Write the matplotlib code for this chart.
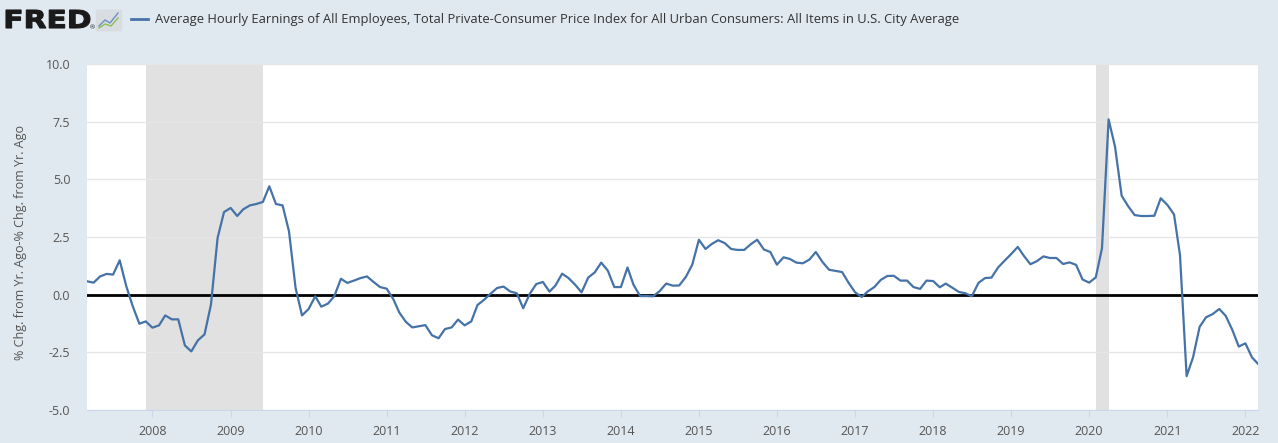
import matplotlib
matplotlib.use("Agg")
import matplotlib.pyplot as plt
import matplotlib.dates as mdates
from matplotlib.patches import FancyBboxPatch, PathPatch
from matplotlib.lines import Line2D
from matplotlib.textpath import TextPath
from matplotlib.font_manager import FontProperties
from matplotlib.transforms import Affine2D, IdentityTransform
import pandas as pd

plt.rcParams['font.family'] = ['Open Sans', 'DejaVu Sans']

# monthly observations, Mar 2007 .. Mar 2022
start_month = '2007-03-01'
values = [
    0.58, 0.52, 0.79, 0.90, 0.87, 1.49, 0.36, -0.50, -1.26, -1.16,
    -1.43, -1.33, -0.90, -1.07, -1.07, -2.20, -2.46, -1.98, -1.72, -0.43,
    2.46, 3.58, 3.76, 3.41, 3.70, 3.87, 3.93, 4.02, 4.70, 3.93,
    3.87, 2.75, 0.29, -0.90, -0.62, -0.07, -0.52, -0.39, -0.07, 0.69,
    0.51, 0.61, 0.72, 0.79, 0.55, 0.33, 0.26, -0.19, -0.77, -1.18,
    -1.42, -1.37, -1.32, -1.76, -1.89, -1.49, -1.42, -1.08, -1.33, -1.16,
    -0.45, -0.22, 0.04, 0.29, 0.35, 0.14, 0.06, -0.59, 0.04, 0.46,
    0.55, 0.13, 0.40, 0.91, 0.72, 0.43, 0.10, 0.74, 0.97, 1.39,
    1.04, 0.33, 0.33, 1.18, 0.43, -0.06, -0.06, -0.07, 0.15,
    0.48, 0.39, 0.40, 0.77, 1.30, 2.38, 1.98, 2.19, 2.36, 2.24,
    1.98, 1.94, 1.94, 2.19, 2.38, 1.96, 1.85, 1.30, 1.62, 1.55,
    1.39, 1.36, 1.52, 1.85, 1.42, 1.08, 1.03, 0.98, 0.52,
    0.10, -0.10, 0.14, 0.33, 0.64, 0.81, 0.82, 0.61, 0.61, 0.33,
    0.25, 0.61, 0.59, 0.32, 0.48, 0.30, 0.12, 0.06, -0.07, 0.51,
    0.72, 0.74, 1.18, 1.47, 1.76, 2.07, 1.69, 1.32, 1.45,
    1.66, 1.59, 1.59, 1.33, 1.40, 1.29, 0.66, 0.52, 0.75, 2.01,
    7.60, 6.42, 4.29, 3.84, 3.45, 3.41, 3.41, 3.42, 4.18, 3.89,
    3.48, 1.72, -3.53, -2.72, -1.39, -0.98, -0.84, -0.62, -0.92, -1.53,
    -2.25, -2.11, -2.72, -3.00,
]
dates = pd.date_range(start_month, periods=len(values), freq='MS')

recessions = [('2007-12-01', '2009-06-01'), ('2020-02-01', '2020-04-01')]
y_ticks = [-5.0, -2.5, 0.0, 2.5, 5.0, 7.5, 10.0]
year_ticks = list(range(2008, 2023))

series_name = ('Average Hourly Earnings of All Employees, Total Private-Consumer Price '
               'Index for All Urban Consumers: All Items in U.S. City Average')
y_label = '% Chg. from Yr. Ago-% Chg. from Yr. Ago'

bg = '#e1e9f0'
line_color = '#4572a7'

fig = plt.figure(figsize=(12.78, 4.43), dpi=100, facecolor=bg)
W, H = 1278, 443
ax = fig.add_axes([87 / W, 1 - 410 / H, (1258 - 87) / W, (410 - 64) / H])
ax.set_facecolor('white')

for a, b in recessions:
    ax.axvspan(pd.Timestamp(a), pd.Timestamp(b), color='#e1e1e1', lw=0, zorder=0)

for yv in y_ticks:
    if yv != 0:
        ax.axhline(yv, color='#e6e6e6', lw=1, zorder=1)
ax.axhline(0, color='black', lw=2, zorder=2)

ax.plot(dates, values, color=line_color, lw=1.6, zorder=3)

ax.set_xlim(dates[0], dates[-1])
ax.set_ylim(-5, 10)
ax.set_yticks(y_ticks)
ax.set_yticklabels([f'{v:.1f}' for v in y_ticks])
ax.set_xticks([pd.Timestamp(f'{y}-01-01') for y in year_ticks])
ax.xaxis.set_major_formatter(mdates.DateFormatter('%Y'))

for s in ['top', 'right', 'left']:
    ax.spines[s].set_visible(False)
ax.spines['bottom'].set_color('#ccd6eb')
ax.tick_params(axis='y', length=0, pad=12, labelsize=9, labelcolor='#555555')
ax.tick_params(axis='x', length=5, color='#ccd6eb', labelsize=9,
               labelcolor='#555555', pad=6)

fig.text(21 / W, 1 - 243 / H, y_label, rotation=90, ha='center', va='center',
         fontsize=9, color='#555555')

# header: FRED logo (stretched heavy text) + legend
tp = TextPath((0, 0), 'FRED', size=20,
              prop=FontProperties(family='DejaVu Sans', weight='bold'))
ext = tp.get_extents()
sx = 84 / ext.width
sy = 18 / ext.height
logo_tf = Affine2D().translate(-ext.x0, -ext.y0).scale(sx, sy).translate(6, H - 28)
logo = PathPatch(logo_tf.transform_path(tp), transform=IdentityTransform(),
                 facecolor='#1a1a1a', edgecolor='#1a1a1a', lw=0.8)
fig.patches.append(logo)
fig.text(90 / W, 1 - 28 / H, '®', fontsize=4.5, color='#1a1a1a', va='center')
icon = FancyBboxPatch((97 / W, 1 - 31 / H), 24 / W, 21 / H,
                      boxstyle='round,pad=0.001', transform=fig.transFigure,
                      facecolor='#d9dde2', edgecolor='none')
fig.patches.append(icon)
fig.lines.append(Line2D([99 / W, 105 / W, 110 / W, 118 / W],
                        [1 - 26 / H, 1 - 20 / H, 1 - 23 / H, 1 - 13 / H],
                        transform=fig.transFigure, color='#6a8fc0', lw=1))
fig.lines.append(Line2D([99 / W, 105 / W, 111 / W, 118 / W],
                        [1 - 28 / H, 1 - 24 / H, 1 - 26 / H, 1 - 18 / H],
                        transform=fig.transFigure, color='#8cc04f', lw=1))

fig.lines.append(Line2D([131 / W, 148 / W], [1 - 19 / H, 1 - 19 / H],
                        transform=fig.transFigure, color=line_color, lw=2))
fig.text(155 / W, 1 - 19 / H, series_name, fontsize=9.4, color='#333333',
         va='center', ha='left')

fig.savefig('out.png', dpi=100, facecolor=bg)
